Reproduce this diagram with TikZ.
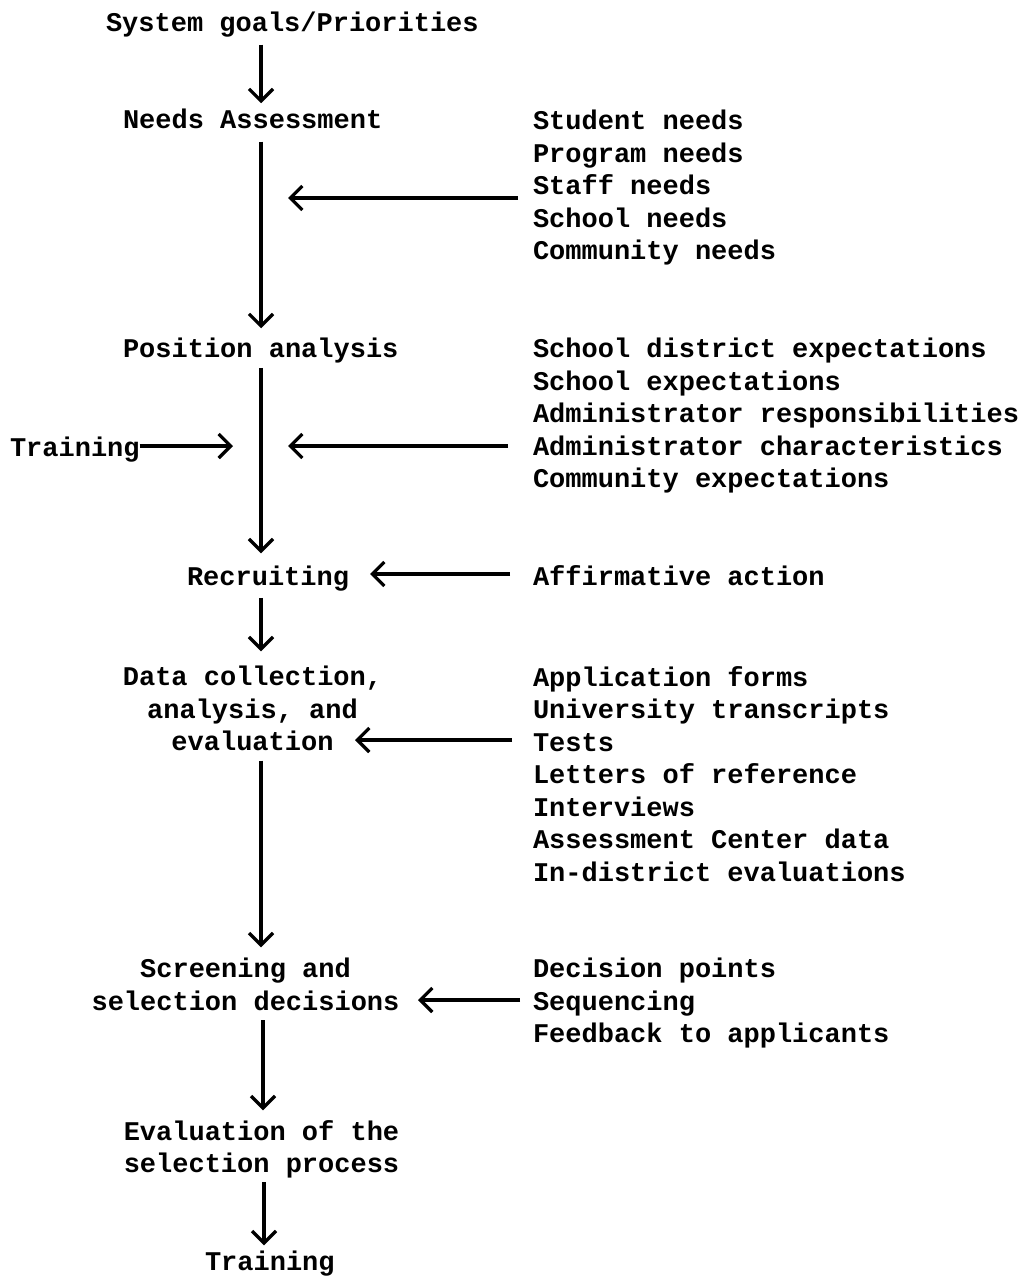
\documentclass[tikz,border=0pt]{standalone}
\usepackage{fontspec}
\setmonofont{Liberation Mono}
\usetikzlibrary{arrows.meta,calc}
\newcommand\tw{\fontsize{27}{32.5}\selectfont\ttfamily\bfseries}
\begin{document}
\begin{tikzpicture}[x=1pt,y=-1pt,
  txt/.style={inner sep=0pt,outer sep=0pt,font=\tw,execute at begin node=\strut},
  one/.style={txt,anchor=base west},
  lst/.style={txt,anchor=north west,align=left},
  ctr/.style={txt,anchor=north,align=center},
  arr/.style={line width=3.2pt,-{Straight Barb[length=12pt,width=24pt]}}]
\useasboundingbox (0,0) rectangle (1025,1276);
\coordinate (ax) at (261,0);
% main column
\node[one] (sys) at (106,32) {System goals/Priorities};
\node[one] (needs) at (123,129) {Needs Assessment};
\node[one] (pos) at (123,357) {Position analysis};
\node[one] (recr) at (187,585) {Recruiting};
\node[ctr] (data) at (252.5,666.25) {Data collection,\\\strut analysis, and\\\strut evaluation};
\node[ctr] (screen) at (245.5,958.25) {Screening and\\\strut selection decisions};
\node[ctr] (evalp) at (261.5,1120.25) {Evaluation of the\\\strut selection process};
\node[one] (trainB) at (205,1270) {Training};
% side
\node[one] (trainL) at (10,456) {Training};
\node[lst] (nlist) at (533,110.25) {Student needs\\\strut Program needs\\\strut Staff needs\\\strut School needs\\\strut Community needs};
\node[lst] (plist) at (533,338.25) {School district expectations\\\strut School expectations\\\strut Administrator responsibilities\\\strut Administrator characteristics\\\strut Community expectations};
\node[one] (aff) at (533,585) {Affirmative action};
\node[lst] (dlist) at (533,666.25) {Application forms\\\strut University transcripts\\\strut Tests\\\strut Letters of reference\\\strut Interviews\\\strut Assessment Center data\\\strut In-district evaluations};
\node[lst] (slist) at (533,958.25) {Decision points\\\strut Sequencing\\\strut Feedback to applicants};
% vertical arrows
\draw[arr,shorten <=3pt,shorten >=3pt] (sys.south -| ax) -- (needs.north -| ax);
\draw[arr,shorten <=3pt,shorten >=6pt] (needs.south -| ax) -- (pos.north -| ax);
\draw[arr,shorten <=1pt,shorten >=9pt] (pos.south -| ax) -- (recr.north -| ax);
\draw[arr,shorten <=3pt,shorten >=15pt] (recr.south -| ax) -- (data.north -| ax);
\draw[arr,shorten <=0pt,shorten >=11pt] (data.south -| ax) -- (screen.north -| ax);
\draw[arr,shorten <=0pt,shorten >=10pt] ($(screen.south -| ax)+(2,0)$) -- ($(evalp.north -| ax)+(2,0)$);
\draw[arr,shorten <=0pt,shorten >=2pt] ($(evalp.south -| ax)+(3,0)$) -- ($(trainB.north -| ax)+(3,0)$);
% horizontal arrows
\coordinate (t1) at (288,198);
\draw[arr,shorten <=15pt] (nlist.west |- t1) -- (t1);
\coordinate (t2) at (233,446);
\draw[arr] (trainL.east |- t2) -- (t2);
\coordinate (t3) at (288,446);
\draw[arr,shorten <=25pt] (plist.west |- t3) -- (t3);
\draw[arr] ($(aff.west)+(-23,-4.5)$) -- ($(recr.east)+(21,-4.5)$);
\coordinate (t5) at (355,740);
\draw[arr,shorten <=21pt] (dlist.west |- t5) -- (t5);
\coordinate (t6) at (418,1000);
\draw[arr,shorten <=13pt] (slist.west |- t6) -- (t6);
\end{tikzpicture}
\end{document}
